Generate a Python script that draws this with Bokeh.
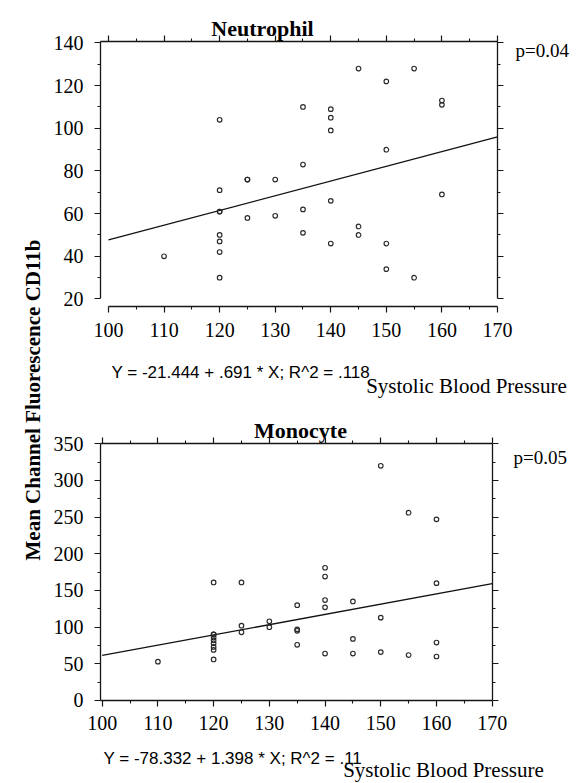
import math
from bokeh.plotting import figure
from bokeh.models import LinearAxis, FixedTicker, Range1d, Label
from bokeh.layouts import row, column
from bokeh.embed import file_html
from bokeh.resources import INLINE

# ---------------- data ----------------
x_ticks = [100, 110, 120, 130, 140, 150, 160, 170]
x_minor = [105, 115, 125, 135, 145, 155, 165]
reg_x = [100, 170]

neut_sbp = [110,
            120, 120, 120, 120, 120, 120, 120, 120,
            125, 125, 125,
            130, 130,
            135, 135, 135, 135,
            140, 140, 140, 140, 140,
            145, 145, 145,
            150, 150, 150, 150,
            155, 155,
            160, 160, 160]
neut_cd11b = [40,
              104, 71, 61, 61, 50, 47, 42, 30,
              76, 76, 58,
              76, 59,
              110, 83, 62, 51,
              109, 105, 99, 66, 46,
              128, 54, 50,
              122, 90, 46, 34,
              128, 30,
              113, 111, 69]
neut_intercept = -21.444
neut_slope = 0.691
neut_eq = "Y = -21.444 + .691 * X; R^2 = .118"
neut_p = "p=0.04"
neut_title = "Neutrophil"
neut_y_ticks = [20, 40, 60, 80, 100, 120, 140]
neut_y_minor = [30, 50, 70, 90, 110, 130]

mono_sbp = [110,
            120, 120, 120, 120, 120, 120, 120, 120, 120,
            125, 125, 125,
            130, 130,
            135, 135, 135, 135,
            140, 140, 140, 140, 140,
            145, 145, 145,
            150, 150, 150,
            155, 155,
            160, 160, 160, 160]
mono_cd11b = [53,
              161, 90, 90, 86, 82, 78, 73, 69, 56,
              161, 102, 93,
              108, 100,
              130, 97, 95, 76,
              181, 169, 137, 127, 64,
              135, 84, 64,
              320, 113, 66,
              256, 62,
              247, 160, 79, 60]
mono_intercept = -78.332
mono_slope = 1.398
mono_eq = "Y = -78.332 + 1.398 * X; R^2 = .11"
mono_p = "p=0.05"
mono_title = "Monocyte"
mono_y_ticks = [0, 50, 100, 150, 200, 250, 300, 350]
mono_y_minor = [25, 75, 125, 175, 225, 275, 325]

y_label = "Mean Channel Fluorescence CD11b"
x_label = "Systolic Blood Pressure"

# ---------------- styling helpers ----------------
INK = "#161616"
SERIF = "Liberation Serif"
SANS = "Liberation Sans"


def make_axis(ticks, minor, show_labels, loc, bounds):
    ax = LinearAxis(ticker=FixedTicker(ticks=ticks, minor_ticks=minor),
                    bounds=bounds, fixed_location=loc)
    ax.axis_line_color = INK
    ax.axis_line_width = 1.3
    ax.major_tick_line_color = INK
    ax.major_tick_line_width = 1.2
    ax.minor_tick_line_color = INK
    ax.minor_tick_line_width = 1.1
    ax.major_tick_out = 6
    ax.major_tick_in = 0
    ax.minor_tick_out = 3
    ax.minor_tick_in = 0
    ax.major_label_text_font = SERIF
    ax.major_label_text_font_size = "20px"
    ax.major_label_text_color = "black"
    if not show_labels:
        ax.major_label_overrides = {t: "" for t in ticks}
        ax.major_label_standoff = 0
    return ax


def add_text(p, txt, x, y, size, font=SERIF, bold=False, align="left",
             baseline="alphabetic"):
    p.add_layout(Label(x=x, y=y, x_units="screen", y_units="screen", text=txt,
                       text_font=font, text_font_size=size,
                       text_font_style="bold" if bold else "normal",
                       text_align=align, text_baseline=baseline,
                       text_color="black"))


def panel(sbp, vals, a, b, eq, ptxt, title, yt, ym, xr, yr, h, box, xbounds, pos):
    # box = (left, right, bottom, top) of the drawn axis frame, in data units
    p = figure(width=536, height=h, x_range=Range1d(*xr), y_range=Range1d(*yr),
               output_backend="svg", toolbar_location=None, title=None,
               x_axis_location=None, y_axis_location=None, min_border=0,
               outline_line_color=None, background_fill_color="white",
               border_fill_color="white")
    p.grid.visible = False
    left, right, bottom, top = box
    yax = make_axis(yt, ym, True, left, (yt[0], top))
    yax.major_label_standoff = 11
    p.add_layout(yax, "left")
    p.add_layout(make_axis(yt, ym, False, right, (yt[0], top)), "right")
    p.add_layout(make_axis(x_ticks, x_minor, False, top, (left, right)), "above")
    bax = make_axis(x_ticks, x_minor, True, bottom, xbounds)
    bax.major_label_standoff = 10
    p.add_layout(bax, "below")

    p.line(reg_x, [a + b * x for x in reg_x], line_color="#111111", line_width=1.3)
    p.scatter(sbp, vals, marker="circle", size=4.6, fill_color=None,
              line_color="#2a2a2a", line_width=1.15)

    add_text(p, title, pos["title"][0], pos["title"][1], "22px", bold=True, align="center")
    add_text(p, ptxt, pos["p"][0], pos["p"][1], "19px")
    add_text(p, eq, pos["eq"][0], pos["eq"][1], "17px", font=SANS)
    add_text(p, x_label, pos["xl"][0], pos["xl"][1], "21px", align="center",
             baseline="middle")
    return p


fig1 = panel(neut_sbp, neut_cd11b, neut_intercept, neut_slope, neut_eq, neut_p,
             neut_title, neut_y_ticks, neut_y_minor,
             (89.563, 186.02), (-27.58, 159.92), 400,
             (98.56, 170, 16.48, 140.7), (100, 170),
             {"title": (212, 372), "p": (465, 350), "eq": (61, 28), "xl": (416, 15)})

fig2 = panel(mono_sbp, mono_cd11b, mono_intercept, mono_slope, mono_eq, mono_p,
             mono_title, mono_y_ticks, mono_y_minor,
             (90.72, 186.93), (-111.81, 409.05), 382,
             (99.7, 170, 0, 350.4), (99.7, 170),
             {"title": (250, 352), "p": (463, 325), "eq": (53, 24), "xl": (393, 13)})

lab = figure(width=50, height=782, x_range=Range1d(0, 1), y_range=Range1d(0, 1),
             output_backend="svg", toolbar_location=None, title=None,
             x_axis_location=None, y_axis_location=None, min_border=0,
             outline_line_color=None)
lab.grid.visible = False
lab.add_layout(Label(x=32, y=382.5, x_units="screen", y_units="screen", text=y_label,
                     angle=math.pi / 2, text_align="center", text_baseline="middle",
                     text_font=SERIF, text_font_style="bold", text_font_size="21px",
                     text_color="black"))

layout = row(lab, column(fig1, fig2))
open("out.html", "w").write(file_html(layout, INLINE))
